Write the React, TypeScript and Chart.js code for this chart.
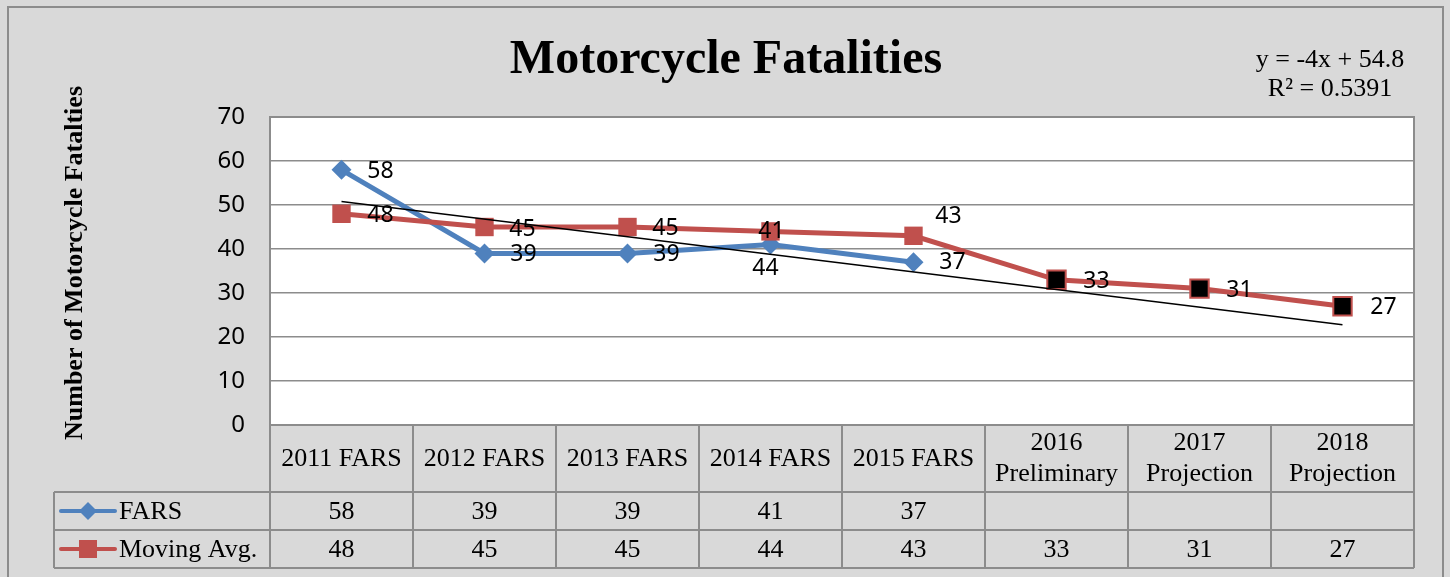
import React, { useEffect, useRef } from "react";
import { Chart, registerables } from "chart.js";

Chart.register(...registerables);

const categories: string[][] = [
  ["2011 FARS"],
  ["2012 FARS"],
  ["2013 FARS"],
  ["2014 FARS"],
  ["2015 FARS"],
  ["2016", "Preliminary"],
  ["2017", "Projection"],
  ["2018", "Projection"],
];
const farsValues: (number | null)[] = [58, 39, 39, 41, 37, null, null, null];
const movingAvgValues: number[] = [48, 45, 45, 44, 43, 33, 31, 27];
const projectedFlags: boolean[] = [false, false, false, false, false, true, true, true];
const farsLabels: string[] = ["58", "39", "39", "41", "37", "", "", ""];
const movingAvgLabels: string[] = ["48", "45", "45", "44", "43", "33", "31", "27"];
const trendValues: (number | null)[] = [50.8, null, null, null, null, null, null, 22.8];
const equationLines: string[] = ["y = -4x + 54.8", "R\u00b2 = 0.5391"];
const yTickValues: number[] = [0, 10, 20, 30, 40, 50, 60, 70];
const chartTitle = "Motorcycle Fatalities";
const yAxisTitle = "Number of Motorcycle Fatalties";
const seriesNames: string[] = ["FARS", "Moving Avg."];

// label offsets (styling)
const farsLabelOffsets: number[][] = [[39, 2], [39, 1], [39, 1], [1, -13], [39, 0], [0, 0], [0, 0], [0, 0]];
const maLabelOffsets: number[][] = [[39, 2], [38, 2], [38, 1], [-5, 37], [35, -19], [40, 2], [40, 2], [41, 1]];

const BLUE = "#4f81bd";
const RED = "#c0504d";
const BG = "#d9d9d9";
const GRID = "#8c8c8c";
const SERIF = "'Liberation Serif', 'Times New Roman', serif";
const SANS = "'Noto Sans', 'Open Sans', sans-serif";

const decorPlugin = {
  id: "excelDecor",
  beforeDraw(chart: any) {
    const { ctx, chartArea: a, width, height } = chart;
    ctx.save();
    ctx.fillStyle = BG;
    ctx.fillRect(0, 0, width, height);
    ctx.strokeStyle = GRID;
    ctx.lineWidth = 2;
    ctx.strokeRect(8, 7, 1435, 620);
    ctx.fillStyle = "#ffffff";
    ctx.fillRect(a.left, a.top, a.right - a.left, a.bottom - a.top);
    ctx.restore();
  },
  afterDatasetsDraw(chart: any) {
    const { ctx } = chart;
    ctx.save();
    ctx.font = `23px ${SANS}`;
    ctx.fillStyle = "#000";
    ctx.textAlign = "center";
    ctx.textBaseline = "middle";
    const m0 = chart.getDatasetMeta(1);
    const m1 = chart.getDatasetMeta(2);
    farsLabels.forEach((t, i) => {
      if (!t) return;
      const p = m0.data[i];
      ctx.fillText(t, p.x + farsLabelOffsets[i][0], p.y + farsLabelOffsets[i][1]);
    });
    movingAvgLabels.forEach((t, i) => {
      const p = m1.data[i];
      ctx.fillText(t, p.x + maLabelOffsets[i][0], p.y + maLabelOffsets[i][1]);
    });
    ctx.restore();
  },
  afterDraw(chart: any) {
    const { ctx, chartArea: a } = chart;
    const xs = chart.scales.x;
    ctx.save();
    // plot border
    ctx.strokeStyle = GRID;
    ctx.lineWidth = 2;
    ctx.strokeRect(a.left, a.top, a.right - a.left, a.bottom - a.top);

    // title
    ctx.fillStyle = "#000";
    ctx.textAlign = "center";
    ctx.textBaseline = "alphabetic";
    ctx.font = `bold 48px ${SERIF}`;
    ctx.fillText(chartTitle, 726, 73);

    // equation
    ctx.textBaseline = "middle";
    ctx.font = `26px ${SERIF}`;
    ctx.fillText(equationLines[0], 1330, 60);
    ctx.fillText(equationLines[1], 1330, 89);

    // y title
    ctx.save();
    ctx.translate(75, 263);
    ctx.rotate(-Math.PI / 2);
    ctx.font = `bold 26px ${SERIF}`;
    ctx.fillText(yAxisTitle, 0, 0);
    ctx.restore();

    // data table
    const half = (xs.getPixelForValue(1) - xs.getPixelForValue(0)) / 2;
    const headerTop = a.bottom;
    const row1 = 492;
    const row2 = 530;
    const row3 = 568;
    const legendLeft = 54;
    ctx.strokeStyle = GRID;
    ctx.lineWidth = 2;
    ctx.beginPath();
    for (let i = 0; i <= categories.length; i++) {
      const x = i < categories.length ? xs.getPixelForValue(i) - half : xs.getPixelForValue(categories.length - 1) + half;
      ctx.moveTo(x, headerTop);
      ctx.lineTo(x, row3);
    }
    ctx.moveTo(legendLeft, row1);
    ctx.lineTo(legendLeft, row3);
    [row1, row2, row3].forEach((y) => {
      ctx.moveTo(legendLeft, y);
      ctx.lineTo(a.right, y);
    });
    ctx.stroke();

    ctx.fillStyle = "#000";
    ctx.font = `26px ${SERIF}`;
    ctx.textAlign = "center";
    categories.forEach((lines, i) => {
      const cx = xs.getPixelForValue(i);
      const mid = (headerTop + row1) / 2;
      if (lines.length === 1) {
        ctx.fillText(lines[0], cx, mid + 1);
      } else {
        ctx.fillText(lines[0], cx, mid - 15);
        ctx.fillText(lines[1], cx, mid + 16);
      }
      const f = farsValues[i];
      if (f !== null) ctx.fillText(String(f), cx, (row1 + row2) / 2 + 1);
      ctx.fillText(String(movingAvgValues[i]), cx, (row2 + row3) / 2 + 1);
    });

    // legend keys
    const keyY1 = (row1 + row2) / 2;
    const keyY2 = (row2 + row3) / 2;
    ctx.lineCap = "round";
    ctx.lineWidth = 4;
    ctx.strokeStyle = BLUE;
    ctx.beginPath();
    ctx.moveTo(61, keyY1);
    ctx.lineTo(115, keyY1);
    ctx.stroke();
    ctx.fillStyle = BLUE;
    ctx.beginPath();
    ctx.moveTo(88, keyY1 - 9);
    ctx.lineTo(97, keyY1);
    ctx.lineTo(88, keyY1 + 9);
    ctx.lineTo(79, keyY1);
    ctx.closePath();
    ctx.fill();
    ctx.strokeStyle = RED;
    ctx.beginPath();
    ctx.moveTo(61, keyY2);
    ctx.lineTo(115, keyY2);
    ctx.stroke();
    ctx.fillStyle = RED;
    ctx.fillRect(79, keyY2 - 9, 18, 18);
    ctx.fillStyle = "#000";
    ctx.textAlign = "left";
    ctx.fillText(seriesNames[0], 119, keyY1 + 1);
    ctx.fillText(seriesNames[1], 119, keyY2 + 1);
    ctx.restore();
  },
};

export default function App() {
  const ref = useRef<HTMLCanvasElement | null>(null);
  useEffect(() => {
    if (!ref.current) return;
    const chart = new Chart(ref.current, {
      type: "line",
      data: {
        labels: categories.map((c) => c.join(" ")),
        datasets: [
          {
            label: "Linear (Moving Avg.)",
            data: trendValues,
            borderColor: "#000000",
            borderWidth: 1.5,
            pointRadius: 0,
            spanGaps: true,
            order: 0,
          },
          {
            label: seriesNames[0],
            data: farsValues,
            borderColor: BLUE,
            backgroundColor: BLUE,
            borderWidth: 5,
            pointStyle: "rectRot",
            pointRadius: 10,
            pointBorderWidth: 0,
            order: 2,
          },
          {
            label: seriesNames[1],
            data: movingAvgValues,
            borderColor: RED,
            backgroundColor: RED,
            borderWidth: 5,
            pointStyle: "rect",
            pointRadius: 13,
            pointBackgroundColor: projectedFlags.map((p) => (p ? "#000000" : RED)),
            pointBorderColor: RED,
            pointBorderWidth: projectedFlags.map((p) => (p ? 2 : 0)),
            order: 1,
          },
        ],
      },
      options: {
        animation: false,
        responsive: false,
        maintainAspectRatio: false,
        layout: { padding: { left: 0, top: 117, right: 36, bottom: 152 } },
        plugins: { legend: { display: false }, tooltip: { enabled: false }, title: { display: false } },
        scales: {
          x: { type: "category", offset: true, display: false },
          y: {
            min: 0,
            max: 70,
            afterFit: (s: any) => {
              s.width = 270;
            },
            afterBuildTicks: (s: any) => {
              s.ticks = yTickValues.map((v) => ({ value: v }));
            },
            grid: { color: GRID, lineWidth: 1.5, drawTicks: false },
            border: { display: true, color: GRID, width: 2 },
            ticks: { padding: 25, color: "#000", font: { family: SANS, size: 24 } },
          },
        },
      },
      plugins: [decorPlugin],
    } as any);
    return () => chart.destroy();
  }, []);
  return (
    <div style={{ position: "fixed", left: 0, top: 0, width: 1450, height: 577 }}>
      <canvas ref={ref} width={1450} height={577} style={{ width: 1450, height: 577, display: "block" }} />
    </div>
  );
}
